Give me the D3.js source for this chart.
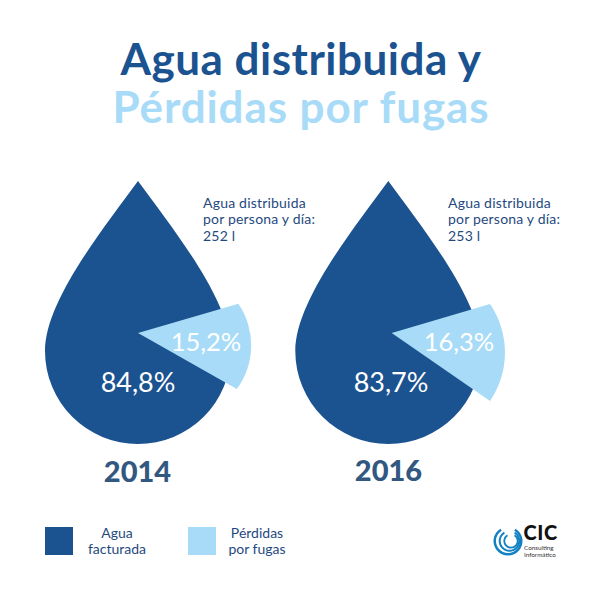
<!DOCTYPE html>
<html>
<head>
<meta charset="utf-8">
<script src="https://cdn.jsdelivr.net/npm/d3@7"></script>
<style>
  html, body { margin: 0; padding: 0; background: #fff; }
  svg { display: block; }
  text { font-family: Lato, "Open Sans", sans-serif; }
</style>
</head>
<body>
<div id="chart"></div>
<script>
// values
var years = ["2014", "2016"];
var billed = [84.8, 83.7];
var lost = [15.2, 16.3];
var litres = [252, 253];
var seriesNames = ["billed", "lost"];
var legendLabels = [["Agua", "facturada"], ["Pérdidas", "por fugas"]];
var titleLines = ["Agua distribuida y", "Pérdidas por fugas"];
var noteLines = ["Agua distribuida", "por persona y día:"];

var dark = "#1b5290";
var light = "#a8dbf7";
var inkColor = "#1f4a80";

var color = d3.scaleOrdinal().domain(seriesNames).range([dark, light]);
var es = d3.formatLocale({ decimal: ",", thousands: ".", grouping: [3], currency: ["", " €"] });
var pct = function (v) { return es.format(".1f")(v) + "%"; };

var svg = d3.select("#chart").append("svg")
    .attr("width", 600)
    .attr("height", 600);

// title
svg.selectAll("text.title")
    .data(titleLines)
    .enter()
    .append("text")
    .attr("class", "title")
    .attr("x", 301)
    .attr("y", function (d, i) { return 74.5 + i * 48.5; })
    .attr("text-anchor", "middle")
    .attr("font-size", 44)
    .attr("font-weight", 700)
    .attr("letter-spacing", function (d, i) { return i === 0 ? 0.5 : 0.9; })
    .attr("fill", function (d, i) { return i === 0 ? dark : light; })
    .text(function (d) { return d; });

// layout of the two drops. The wedge in the original is not a true share of 360,
// so each panel gets its own span for the pie layout
var panels = [
    { dropX: 138, pieX: 138, pieY: 333, span: 301, start: 73.8, r0: 104.5, r1: 113.6, bulge: 73.6, noteX: 203, yearX: 137.5, yearY: 482, bigX: 138, smallX: 206 },
    { dropX: 388.3, pieX: 391.7, pieY: 333, span: 313, start: 73.6, r0: 102.5, r1: 119.5, bulge: 86, noteX: 448, yearX: 388.5, yearY: 481, bigX: 391, smallX: 459 }
];

var dropY = d3.scaleLinear().domain([0, 1]).range([181, 444]);
var dropR = 93;

// drop outline, tip on top and a half circle at the bottom
function dropPath(cx) {
    var tip = dropY(0), cy = dropY(1) - dropR;
    var p = d3.path();
    p.moveTo(cx, tip);
    p.bezierCurveTo(cx + 35, cy - 122, cx + dropR, cy - 50, cx + dropR, cy);
    p.arc(cx, cy, dropR, 0, Math.PI, false);
    p.bezierCurveTo(cx - dropR, cy - 50, cx - 35, cy - 122, cx, tip);
    p.closePath();
    return p.toString();
}

function wedgePath(slice, c) {
    var a = d3.pointRadial(slice.startAngle, c.r0);
    var b = d3.pointRadial(slice.endAngle, c.r1);
    return "M" + c.pieX + "," + c.pieY +
        "L" + (c.pieX + a[0]) + "," + (c.pieY + a[1]) +
        "A" + c.bulge + "," + c.bulge + " 0 0 1 " + (c.pieX + b[0]) + "," + (c.pieY + b[1]) + "Z";
}

years.forEach(function (year, i) {
    var c = panels[i];
    var rad = Math.PI / 180;
    var pie = d3.pie().sort(null)
        .startAngle(c.start * rad)
        .endAngle((c.start + c.span) * rad);
    var slices = pie([lost[i], billed[i]]);
    var g = svg.append("g");

    g.append("path")
        .attr("d", dropPath(c.dropX))
        .attr("fill", color("billed"));

    g.append("path")
        .attr("d", wedgePath(slices[0], c))
        .attr("fill", color("lost"));

    g.append("text")
        .attr("x", c.bigX)
        .attr("y", 392)
        .attr("text-anchor", "middle")
        .attr("font-size", 27)
        .attr("fill", "#fff")
        .text(pct(billed[i]));

    g.append("text")
        .attr("x", c.smallX)
        .attr("y", 351)
        .attr("text-anchor", "middle")
        .attr("font-size", 25.5)
        .attr("fill", "#fff")
        .text(pct(lost[i]));

    g.append("text")
        .attr("x", c.yearX)
        .attr("y", c.yearY)
        .attr("text-anchor", "middle")
        .attr("font-size", 29)
        .attr("font-weight", 900)
        .attr("fill", "#33587f")
        .text(year);

    noteLines.concat([litres[i] + " l"]).forEach(function (line, k) {
        g.append("text")
            .attr("x", c.noteX)
            .attr("y", 208 + k * 16.3)
            .attr("font-size", 14)
            .attr("letter-spacing", 0.2)
            .attr("fill", inkColor)
            .text(line);
    });
});

// legend
var legendX = d3.scalePoint().domain(seriesNames).range([45, 188]);
var legendTextX = d3.scalePoint().domain(seriesNames).range([117, 257]);

seriesNames.forEach(function (name, i) {
    svg.append("rect")
        .attr("x", legendX(name))
        .attr("y", 527)
        .attr("width", 28)
        .attr("height", 28)
        .attr("fill", color(name));
    legendLabels[i].forEach(function (line, k) {
        svg.append("text")
            .attr("x", legendTextX(name))
            .attr("y", 538 + k * 15.5)
            .attr("text-anchor", "middle")
            .attr("font-size", 14)
            .attr("fill", inkColor)
            .text(line);
    });
});

// logo
var logo = svg.append("g").attr("transform", "translate(508,541)");
var ring = d3.arc().startAngle(0.55).endAngle(Math.PI * 2 - 0.55);
[[12, 14.5], [8.8, 10.8], [5.8, 7.6]].forEach(function (r, i) {
    logo.append("path")
        .attr("transform", "translate(" + (i * 1.5) + ",0)")
        .attr("d", ring({ innerRadius: r[0], outerRadius: r[1] }))
        .attr("fill", "#1380c4");
});
svg.append("text")
    .attr("x", 523.5)
    .attr("y", 540)
    .attr("font-size", 20)
    .attr("font-weight", 900)
    .attr("letter-spacing", 0.6)
    .attr("fill", "#111")
    .text("CIC");
["Consulting", "Informático"].forEach(function (line, k) {
    svg.append("text")
        .attr("x", 524)
        .attr("y", 550 + k * 7)
        .attr("font-size", 6.3)
        .attr("fill", "#333")
        .text(line);
});
</script>
</body>
</html>
